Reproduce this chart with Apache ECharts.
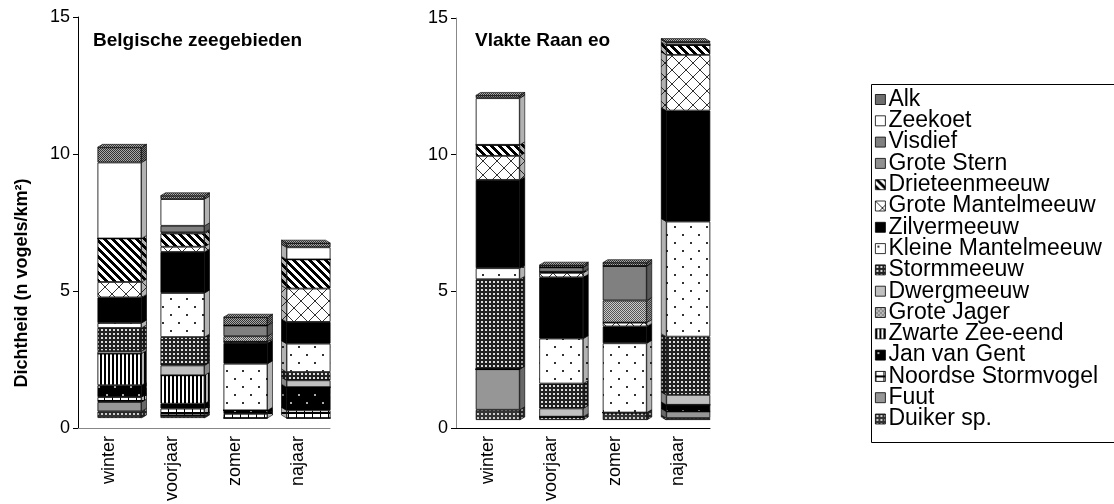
<!DOCTYPE html>
<html>
<head>
<meta charset="utf-8">
<script src="https://cdn.jsdelivr.net/npm/echarts@6/dist/echarts.min.js"></script>
<style>
html, body { margin: 0; padding: 0; background: #fff; }
#chart { width: 1114px; height: 504px; }
</style>
</head>
<body>
<div id="chart"></div>
<script>
var seizoenen = ['winter', 'voorjaar', 'zomer', 'najaar'];
var yTicks = [0, 5, 10, 15];

// Belgische zeegebieden (winter, voorjaar, zomer, najaar)
var bzAlk = [0.55, 0.12, 0.30, 0.15];
var bzZeekoet = [2.76, 0.97, 0, 0.44];
var bzVisdief = [0, 0.24, 0.39, 0];
var bzGroteStern = [0, 0.04, 0.20, 0];
var bzDrieteenmeeuw = [1.58, 0.48, 0, 1.06];
var bzGroteMantelmeeuw = [0.56, 0.19, 0.05, 1.21];
var bzZilvermeeuw = [0.93, 1.49, 0.75, 0.79];
var bzKleineMantelmeeuw = [0.18, 1.60, 1.69, 1.03];
var bzStormmeeuw = [0.84, 1.03, 0, 0.30];
var bzDwergmeeuw = [0.09, 0.36, 0, 0.25];
var bzGroteJager = [0, 0, 0, 0];
var bzZwarteZeeEend = [1.15, 1.03, 0, 0];
var bzJanVanGent = [0.43, 0.18, 0.13, 0.84];
var bzNoordseStormvogel = [0.18, 0.24, 0.15, 0.28];
var bzFuut = [0.34, 0, 0, 0];
var bzDuiker = [0.24, 0.10, 0, 0];

// Vlakte Raan eo (winter, voorjaar, zomer, najaar)
var vrAlk = [0.10, 0.08, 0.12, 0.04];
var vrZeekoet = [1.69, 0, 0, 0.08];
var vrVisdief = [0, 0.16, 1.25, 0];
var vrGroteStern = [0, 0, 0.80, 0];
var vrDrieteenmeeuw = [0.40, 0.04, 0, 0.36];
var vrGroteMantelmeeuw = [0.87, 0.16, 0.14, 2.02];
var vrZilvermeeuw = [3.20, 2.22, 0.61, 4.02];
var vrKleineMantelmeeuw = [0.40, 1.63, 2.51, 4.17];
var vrStormmeeuw = [3.26, 0.90, 0, 2.11];
var vrDwergmeeuw = [0, 0.30, 0, 0.36];
var vrGroteJager = [0, 0, 0, 0];
var vrZwarteZeeEend = [0, 0, 0, 0];
var vrJanVanGent = [0, 0, 0, 0.24];
var vrNoordseStormvogel = [0, 0, 0, 0];
var vrFuut = [1.47, 0, 0, 0.24];
var vrDuiker = [0.37, 0.12, 0.27, 0.07];

// fill patterns
function pattern(w, h, bg, draw) {
    var c = document.createElement('canvas');
    c.width = w;
    c.height = h;
    var ctx = c.getContext('2d');
    ctx.fillStyle = bg;
    ctx.fillRect(0, 0, w, h);
    ctx.fillStyle = '#000';
    if (draw) draw(ctx);
    return {image: c, repeat: 'repeat'};
}
function checker(dark, light) {
    return pattern(2, 2, light, function (ctx) {
        ctx.fillStyle = dark;
        ctx.fillRect(0, 0, 1, 1);
        ctx.fillRect(1, 1, 1, 1);
    });
}
function dots(bg, fg, size, step) {
    return pattern(step, step, bg, function (ctx) {
        ctx.fillStyle = fg;
        ctx.fillRect(2, 2, size, size);
        ctx.fillRect(2 + step / 2, 2 + step / 2, size, size);
    });
}

var fills = {
    'Alk': checker('#333', '#aaa'),
    'Zeekoet': '#fff',
    'Visdief': '#808080',
    'Grote Stern': checker('#555', '#ccc'),
    'Drieteenmeeuw': pattern(8, 8, '#fff', function (ctx) {
        for (var x = 0; x < 8; x++) {
            for (var y = 0; y < 8; y++) {
                if (((x - y) % 8 + 8) % 8 < 4) ctx.fillRect(x, y, 1, 1);
            }
        }
    }),
    'Grote Mantelmeeuw': pattern(14, 14, '#fff', function (ctx) {
        ctx.fillStyle = '#333';
        for (var i = 0; i < 14; i++) {
            ctx.fillRect(i, i, 1, 1);
            ctx.fillRect(13 - i, i, 1, 1);
        }
    }),
    'Zilvermeeuw': '#000',
    'Kleine Mantelmeeuw': dots('#fff', '#333', 2, 16),
    'Stormmeeuw': pattern(4, 4, '#222', function (ctx) {
        ctx.fillStyle = '#ddd';
        ctx.fillRect(1, 1, 2, 2);
    }),
    'Dwergmeeuw': '#c0c0c0',
    'Grote Jager': pattern(4, 4, '#ddd', function (ctx) {
        ctx.fillStyle = '#444';
        ctx.fillRect(0, 0, 1, 1);
        ctx.fillRect(2, 0, 1, 1);
        ctx.fillRect(1, 1, 1, 1);
        ctx.fillRect(0, 2, 1, 1);
        ctx.fillRect(2, 2, 1, 1);
        ctx.fillRect(3, 3, 1, 1);
    }),
    'Zwarte Zee-eend': pattern(4, 1, '#fff', function (ctx) {
        ctx.fillRect(0, 0, 2, 1);
    }),
    'Jan van Gent': dots('#000', '#aaa', 2, 16),
    'Noordse Stormvogel': pattern(8, 6, '#fff', function (ctx) {
        ctx.fillRect(0, 4, 8, 2);
        ctx.fillRect(0, 0, 1, 6);
    }),
    'Fuut': '#969696',
    'Duiker sp.': pattern(4, 4, '#333', function (ctx) {
        ctx.fillStyle = '#ccc';
        ctx.fillRect(1, 1, 2, 2);
    })
};

// bottom of the stack first
var stapel = [
    ['Duiker sp.', bzDuiker, vrDuiker],
    ['Fuut', bzFuut, vrFuut],
    ['Noordse Stormvogel', bzNoordseStormvogel, vrNoordseStormvogel],
    ['Jan van Gent', bzJanVanGent, vrJanVanGent],
    ['Zwarte Zee-eend', bzZwarteZeeEend, vrZwarteZeeEend],
    ['Grote Jager', bzGroteJager, vrGroteJager],
    ['Dwergmeeuw', bzDwergmeeuw, vrDwergmeeuw],
    ['Stormmeeuw', bzStormmeeuw, vrStormmeeuw],
    ['Kleine Mantelmeeuw', bzKleineMantelmeeuw, vrKleineMantelmeeuw],
    ['Zilvermeeuw', bzZilvermeeuw, vrZilvermeeuw],
    ['Grote Mantelmeeuw', bzGroteMantelmeeuw, vrGroteMantelmeeuw],
    ['Drieteenmeeuw', bzDrieteenmeeuw, vrDrieteenmeeuw],
    ['Grote Stern', bzGroteStern, vrGroteStern],
    ['Visdief', bzVisdief, vrVisdief],
    ['Zeekoet', bzZeekoet, vrZeekoet],
    ['Alk', bzAlk, vrAlk]
];

var font = 'Liberation Sans, Arial, sans-serif';
var halfBar = 22;
var depth = 5;
var series = [];
stapel.forEach(function (s) {
    [1, 2].forEach(function (k) {
        series.push({
            name: s[0],
            type: 'bar',
            stack: k === 1 ? 'bz' : 'vr',
            xAxisIndex: k === 1 ? 1 : 3,
            yAxisIndex: k === 1 ? 1 : 3,
            barWidth: halfBar * 2,
            data: s[k],
            itemStyle: {color: fills[s[0]], borderColor: '#000', borderWidth: 0.8},
            emphasis: {disabled: true}
        });
    });
});

// side and top faces of the 3D columns
[1, 2].forEach(function (k) {
    series.push({
        name: 'zijkant' + k,
        type: 'custom',
        xAxisIndex: k === 1 ? 1 : 3,
        yAxisIndex: k === 1 ? 1 : 3,
        silent: true,
        data: seizoenen.map(function (s, i) { return [i]; }),
        encode: {x: 0},
        renderItem: function (params, api) {
            var i = api.value(0);
            var rechts = i < 3;
            var children = [];
            var cum = 0;
            var topFill = '#fff';
            stapel.forEach(function (s) {
                var v = s[k][i];
                if (!(v > 0)) return;
                var p0 = api.coord([i, cum]);
                var p1 = api.coord([i, cum + v]);
                cum += v;
                topFill = fills[s[0]];
                var xe = rechts ? p0[0] + halfBar : p0[0] - halfBar;
                var xo = rechts ? xe + depth : xe - depth;
                var pts = [[xe, p1[1]], [xo, p1[1] - 3], [xo, p0[1] - 3], [xe, p0[1]]];
                children.push({type: 'polygon', shape: {points: pts},
                    style: {fill: fills[s[0]], stroke: '#000', lineWidth: 0.6}});
                children.push({type: 'polygon', shape: {points: pts},
                    style: {fill: 'rgba(0,0,0,0.3)'}});
            });
            var top = api.coord([i, cum]);
            var xl = top[0] - halfBar, xr = top[0] + halfBar;
            var d = rechts ? depth : -depth;
            var tp = [[xl, top[1]], [xl + d, top[1] - 3], [xr + d, top[1] - 3], [xr, top[1]]];
            children.push({type: 'polygon', shape: {points: tp},
                style: {fill: topFill, stroke: '#000', lineWidth: 0.6}});
            return {type: 'group', children: children};
        }
    });
});

function catAxis(grid, lineColor, show) {
    return {
        type: 'category',
        gridIndex: grid,
        data: seizoenen,
        show: show,
        axisLine: {lineStyle: {color: lineColor, width: 1}},
        axisTick: {length: 6, lineStyle: {color: '#000'}},
        axisLabel: {rotate: 90, fontSize: 18, color: '#000', fontFamily: font, margin: 8}
    };
}
function valAxis(grid, lineColor, show) {
    return {
        type: 'value',
        gridIndex: grid,
        show: show,
        min: yTicks[0],
        max: yTicks[yTicks.length - 1],
        interval: 5,
        splitLine: {show: false},
        axisLine: {show: true, lineStyle: {color: lineColor, width: 1}},
        axisTick: {show: true, length: 5, lineStyle: {color: '#000'}},
        axisLabel: {fontSize: 18, color: '#000', fontFamily: font, margin: 8}
    };
}

var myChart = echarts.init(document.getElementById('chart'));
var option = {
    animation: false,
    backgroundColor: '#fff',
    title: [
        {text: 'Belgische zeegebieden', left: 88, top: 26,
            textStyle: {fontSize: 19, fontWeight: 'bold', color: '#000', fontFamily: font}},
        {text: 'Vlakte Raan eo', left: 470, top: 26,
            textStyle: {fontSize: 19, fontWeight: 'bold', color: '#000', fontFamily: font}}
    ],
    legend: {
        orient: 'vertical',
        left: 870,
        top: 83,
        icon: 'rect',
        itemWidth: 10,
        itemHeight: 10,
        itemGap: -1.7,
        data: stapel.map(function (s) { return s[0]; }).reverse(),
        textStyle: {fontSize: 23, color: '#000', fontFamily: font, padding: [0, 0, 0, -2]},
        itemStyle: {borderColor: '#000', borderWidth: 0.8},
        selectedMode: false
    },
    graphic: [
        {type: 'rect', left: 869, top: 82, shape: {width: 260, height: 358},
            style: {fill: 'none', stroke: '#000', lineWidth: 1}},
        {type: 'text', x: 22, y: 283, rotation: Math.PI / 2,
            style: {text: 'Dichtheid (n vogels/km²)', fontSize: 18, fontWeight: 'bold',
                fontFamily: font, fill: '#000', align: 'center', verticalAlign: 'middle'}}
    ],
    grid: [
        {left: 78, top: 17, width: 252, height: 413},
        {left: 88, top: 5, width: 252, height: 413},
        {left: 456, top: 18, width: 254, height: 414},
        {left: 466, top: 6, width: 254, height: 414}
    ],
    xAxis: [
        catAxis(0, '#888', true),
        catAxis(1, '#000', false),
        catAxis(2, '#000', true),
        catAxis(3, '#000', false)
    ],
    yAxis: [
        valAxis(0, '#000', true),
        valAxis(1, '#000', false),
        valAxis(2, '#888', true),
        valAxis(3, '#000', false)
    ],
    series: series
};
myChart.setOption(option);
</script>
</body>
</html>
